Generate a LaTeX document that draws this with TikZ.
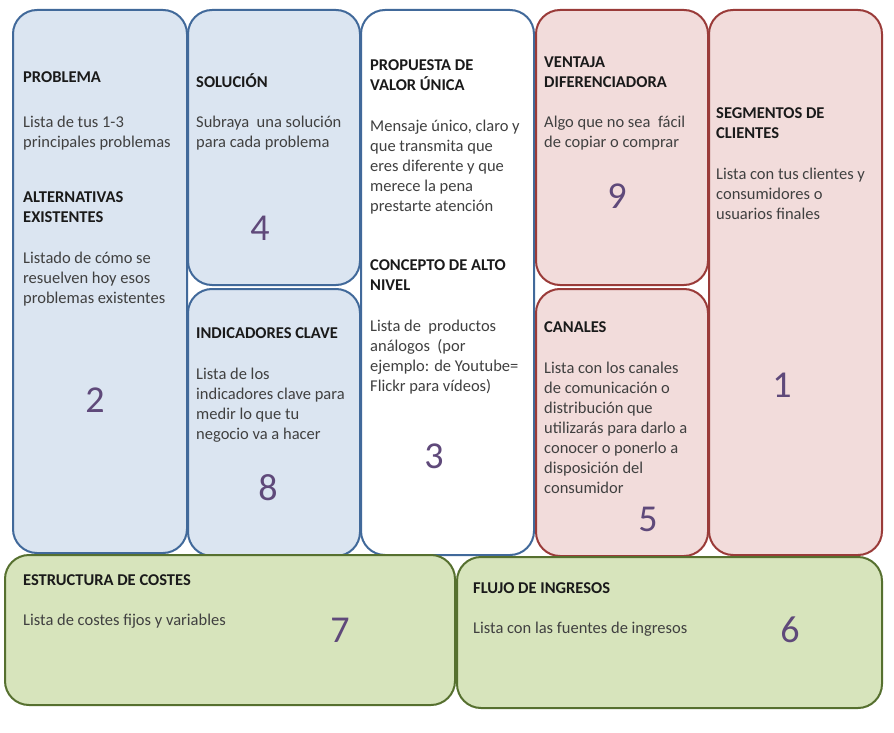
\documentclass[tikz,border=0pt]{standalone}
\usepackage{fontspec}
\setmainfont{Carlito}
\definecolor{bfill}{HTML}{DBE5F1}
\definecolor{bline}{HTML}{41699A}
\definecolor{rfill}{HTML}{F2DCDB}
\definecolor{rline}{HTML}{9A3B39}
\definecolor{gfill}{HTML}{D7E4BC}
\definecolor{gline}{HTML}{56702F}
\definecolor{numc}{HTML}{5F497A}
\definecolor{bodyc}{HTML}{404040}
\definecolor{headc}{HTML}{1A1A1A}
\newcommand{\fst}{\rule{0pt}{14pt}}
\tikzset{
  panel/.style={draw, line width=2pt, rounded corners=24pt, inner sep=0pt, outer sep=0pt, anchor=north west},
  bluebox/.style={panel, draw=bline, fill=bfill},
  whitebox/.style={panel, draw=bline, fill=white},
  redbox/.style={panel, draw=rline, fill=rfill},
  greenbox/.style={panel, draw=gline, fill=gfill},
  head/.style={anchor=north west, inner sep=0pt, align=left, text=headc, font={\fontsize{16.5}{20}\selectfont\bfseries}},
  body/.style={anchor=north west, inner sep=0pt, align=left, text=bodyc, font={\fontsize{16.5}{20}\selectfont}},
  num/.style={anchor=center, inner sep=0pt, text=numc, font={\fontsize{38}{40}\selectfont}}
}
\begin{document}
\begin{tikzpicture}[x=1pt,y=-1pt]
\useasboundingbox (0,0) rectangle (894,733);
% panels
\node[bluebox, minimum width=174pt, minimum height=543pt] (p2) at (13,10) {};
\node[bluebox, minimum width=172pt, minimum height=275pt] (p4) at (188,10) {};
\node[bluebox, minimum width=172pt, minimum height=267pt] (p8) at (188,289) {};
\node[whitebox, minimum width=173pt, minimum height=545pt] (p3) at (361,10) {};
\node[redbox, minimum width=172pt, minimum height=275pt] (p9) at (536,10) {};
\node[redbox, minimum width=172pt, minimum height=267pt] (p5) at (536,289) {};
\node[redbox, minimum width=173pt, minimum height=545pt] (p1) at (709,10) {};
\node[greenbox, minimum width=450pt, minimum height=150pt] (p7) at (5,555) {};
\node[greenbox, minimum width=425pt, minimum height=151pt] (p6) at (457,557) {};
% texts col 1
\node[head] (h2) at (23,68) {\fst PROBLEMA};
\node[body] (t2) at (23,113) {\fst Lista de tus 1-3\\principales problemas};
\node[head] (h2b) at (23,188) {\fst ALTERNATIVAS\\EXISTENTES};
\node[body] (t2b) at (23,249) {\fst Listado de cómo se\\resuelven hoy esos\\problemas existentes};
\node[num] (n2) at (95,400) {2};
% col 2
\node[head] (h4) at (196,73) {\fst SOLUCIÓN};
\node[body] (t4) at (196,113) {\fst Subraya\ \ una solución\\para cada problema};
\node[num] (n4) at (260,228) {4};
\node[head] (h8) at (196,324) {\fst INDICADORES CLAVE};
\node[body] (t8) at (196,365) {\fst Lista de los\\indicadores clave para\\medir lo que tu\\negocio va a hacer};
\node[num] (n8) at (268,488) {8};
% col 3
\node[head] (h3) at (370,56) {\fst PROPUESTA DE\\VALOR ÚNICA};
\node[body] (t3) at (370,117) {\fst Mensaje único, claro y\\que transmita que\\eres diferente y que\\merece la pena\\prestarte atención};
\node[head] (h3b) at (370,256) {\fst CONCEPTO DE ALTO\\NIVEL};
\node[body] (t3b) at (370,317) {\fst Lista de\ \ productos\\análogos\ \ (por\\ejemplo: de Youtube=\\Flickr para vídeos)};
\node[num] (n3) at (434,456) {3};
% col 4
\node[head] (h9) at (544,53) {\fst VENTAJA\\DIFERENCIADORA};
\node[body] (t9) at (544,113) {\fst Algo que no sea\ \ fácil\\de copiar o comprar};
\node[num] (n9) at (617,196) {9};
\node[head] (h5) at (544,318) {\fst CANALES};
\node[body] (t5) at (544,359) {\fst Lista con los canales\\de comunicación o\\distribución que\\utilizarás para darlo a\\conocer o ponerlo a\\disposición del\\consumidor};
\node[num] (n5) at (648,519) {5};
% col 5
\node[head] (h1) at (716,104) {\fst SEGMENTOS DE\\CLIENTES};
\node[body] (t1) at (716,165) {\fst Lista con tus clientes y\\consumidores o\\usuarios finales};
\node[num] (n1) at (782,385) {1};
% bottom
\node[head] (h7) at (23,571) {\fst ESTRUCTURA DE COSTES};
\node[body] (t7) at (23,611) {\fst Lista de costes fijos y variables};
\node[num] (n7) at (340,630) {7};
\node[head] (h6) at (473,579) {\fst FLUJO DE INGRESOS};
\node[body] (t6) at (473,619) {\fst Lista con las fuentes de ingresos};
\node[num] (n6) at (790,630) {6};
\end{tikzpicture}
\end{document}
